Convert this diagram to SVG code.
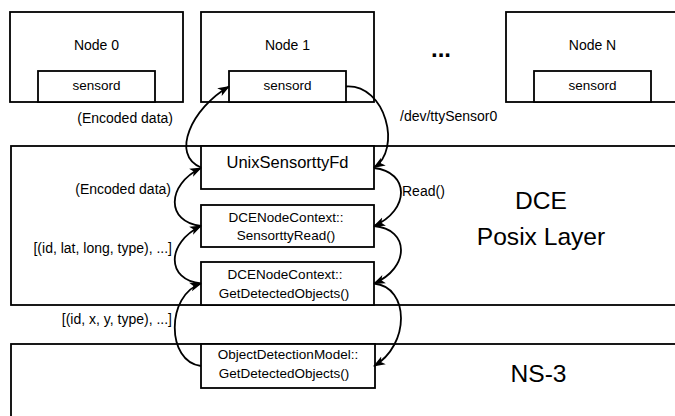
<svg xmlns="http://www.w3.org/2000/svg" width="675" height="416" viewBox="0 0 675 416">
<style>
.box{fill:#fff;stroke:#000;stroke-width:1.8}
.t{font-family:"Liberation Sans",Arial,sans-serif;font-size:14px;fill:#000}
.s{font-size:13.5px}
.c{text-anchor:middle}
.e{text-anchor:end}
.big{font-size:24.6px}
.edge{fill:none;stroke:#000;stroke-width:1.8;marker-end:url(#arr)}
</style>
<defs>
<marker id="arr" markerUnits="userSpaceOnUse" viewBox="0 0 12 10" refX="11" refY="5" markerWidth="12" markerHeight="10" orient="auto">
<path d="M0,0.5 L12,5 L0,9.5 L3,5 Z" fill="#000"/>
</marker>
</defs>
<rect width="675" height="416" fill="#fff"/>
<g id="node0">
<rect class="box" x="10" y="12" width="173" height="90"/>
<text class="t c" x="96.5" y="50">Node 0</text>
<rect class="box" x="38" y="71" width="117" height="31"/>
<text class="t c s" x="96.5" y="90">sensord</text>
</g>
<g id="node1">
<rect class="box" x="201" y="12" width="173" height="90"/>
<text class="t c" x="287.5" y="50">Node 1</text>
<rect class="box" x="229" y="71" width="117" height="31"/>
<text class="t c s" x="287.5" y="90">sensord</text>
</g>
<g id="dots">
<text class="t c" x="441" y="57" style="font-size:24px;font-weight:bold">...</text>
</g>
<g id="nodeN">
<rect class="box" x="506" y="12" width="173" height="90"/>
<text class="t c" x="592.5" y="50">Node N</text>
<rect class="box" x="534" y="71" width="117" height="31"/>
<text class="t c s" x="592.5" y="90">sensord</text>
</g>
<g id="dce">
<rect class="box" x="11" y="146" width="680" height="159"/>
<text class="t c big" x="541" y="209">DCE</text>
<text class="t c big" x="541" y="245">Posix Layer</text>
</g>
<g id="ns3">
<rect class="box" x="11" y="344" width="680" height="90"/>
<text class="t c big" x="538.5" y="382">NS-3</text>
</g>
<g id="unixfd">
<rect class="box" x="201" y="146" width="173" height="43"/>
<text class="t c" x="287.5" y="168" style="font-size:16.5px">UnixSensorttyFd</text>
</g>
<g id="sensorttyread">
<rect class="box" x="201" y="205" width="173" height="42"/>
<text class="t c s" x="286" y="221.5">DCENodeContext::</text>
<text class="t c s" x="286" y="240">SensorttyRead()</text>
</g>
<g id="getdetected">
<rect class="box" x="201" y="262" width="173" height="43"/>
<text class="t c s" x="285" y="278.5">DCENodeContext::</text>
<text class="t c s" x="284" y="298">GetDetectedObjects()</text>
</g>
<g id="objmodel">
<rect class="box" x="201" y="344" width="174" height="44"/>
<text class="t c s" x="288" y="359">ObjectDetectionModel::</text>
<text class="t c s" x="284" y="378">GetDetectedObjects()</text>
</g>
<g id="connectors">
<path class="edge" d="M201,167.5 C170,155 192,108 229,86.5"/>
<path class="edge" d="M201,226 C166,222 166,185 201,168"/>
<path class="edge" d="M201,283.5 C166,280 166,243 201,226"/>
<path class="edge" d="M201,366 C166,362 166,295 201,283.5"/>
<path class="edge" d="M346,86.5 C386,84 402,150 374,167.5"/>
<path class="edge" d="M374,168 C410,172 410,210 374,226"/>
<path class="edge" d="M374,226 C410,229 410,268 374,283.5"/>
<path class="edge" d="M374,283.5 C410,287 410,345 374,366"/>
<text class="t e" x="173" y="123">(Encoded data)</text>
<text class="t" x="400" y="121">/dev/ttySensor0</text>
<text class="t e" x="171" y="194">(Encoded data)</text>
<text class="t" x="402" y="196">Read()</text>
<text class="t e" x="172" y="253">[(id, lat, long, type), ...]</text>
<text class="t e" x="172" y="323.5">[(id, x, y, type), ...]</text>
</g>
</svg>
